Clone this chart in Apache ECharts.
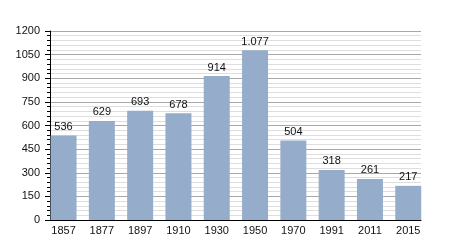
<!DOCTYPE html>
<html><head><meta charset="utf-8">
<script src="https://cdn.jsdelivr.net/npm/echarts@6/dist/echarts.min.js"></script>
<style>html,body{margin:0;padding:0;background:#fff}#c{width:450px;height:250px}</style>
</head><body><div id="c"></div>
<script>
var years = ['1857','1877','1897','1910','1930','1950','1970','1991','2011','2015'];
var population = [536, 629, 693, 678, 914, 1077, 504, 318, 261, 217];
var yTicks = [0, 150, 300, 450, 600, 750, 900, 1050, 1200];

function fmt(v){ return String(v).replace(/\B(?=(\d{3})+(?!\d))/g, '.'); }
var font = 'Liberation Sans, Arial, sans-serif';
var chart = echarts.init(document.getElementById('c'), null, {renderer:'canvas'});
chart.setOption({
  animation:false,
  backgroundColor:'#fff',
  grid:[
    {left:50, right:29, top:31, bottom:30},
    {left:44.4, right:22.6, top:31, bottom:30}
  ],
  xAxis:[
    {gridIndex:0, type:'value', min:0, max:1, axisLabel:{show:false}, axisTick:{show:false}, splitLine:{show:false},
     axisLine:{show:true, lineStyle:{color:'#000', width:1}}},
    {gridIndex:1, type:'category', data:years, axisLine:{show:false}, axisTick:{show:false},
     axisLabel:{color:'#111', fontSize:11, fontFamily:font, margin:5}}
  ],
  yAxis:[
    {gridIndex:0, type:'value', min:yTicks[0], max:yTicks[yTicks.length-1], interval:150,
     axisLine:{show:true, lineStyle:{color:'#000'}},
     axisTick:{show:true, length:5, lineStyle:{color:'#000'}},
     minorTick:{show:true, splitNumber:5, length:3, lineStyle:{color:'#000'}},
     splitLine:{show:true, lineStyle:{color:'#a8a8a8', width:1}},
     minorSplitLine:{show:true, lineStyle:{color:'#dedede', width:1}},
     axisLabel:{color:'#111', fontSize:11, fontFamily:font, margin:10,
       formatter:function(v){return String(v);}}},
    {gridIndex:1, type:'value', min:0, max:1200, show:false}
  ],
  series:[{
    type:'bar', xAxisIndex:1, yAxisIndex:1, data:population, barWidth:26,
    itemStyle:{color:'#95adca'},
    label:{show:true, position:'top', distance:3, color:'#111', fontSize:11, fontFamily:font,
      formatter:function(p){return fmt(p.value);}}
  }]
});
</script></body></html>
